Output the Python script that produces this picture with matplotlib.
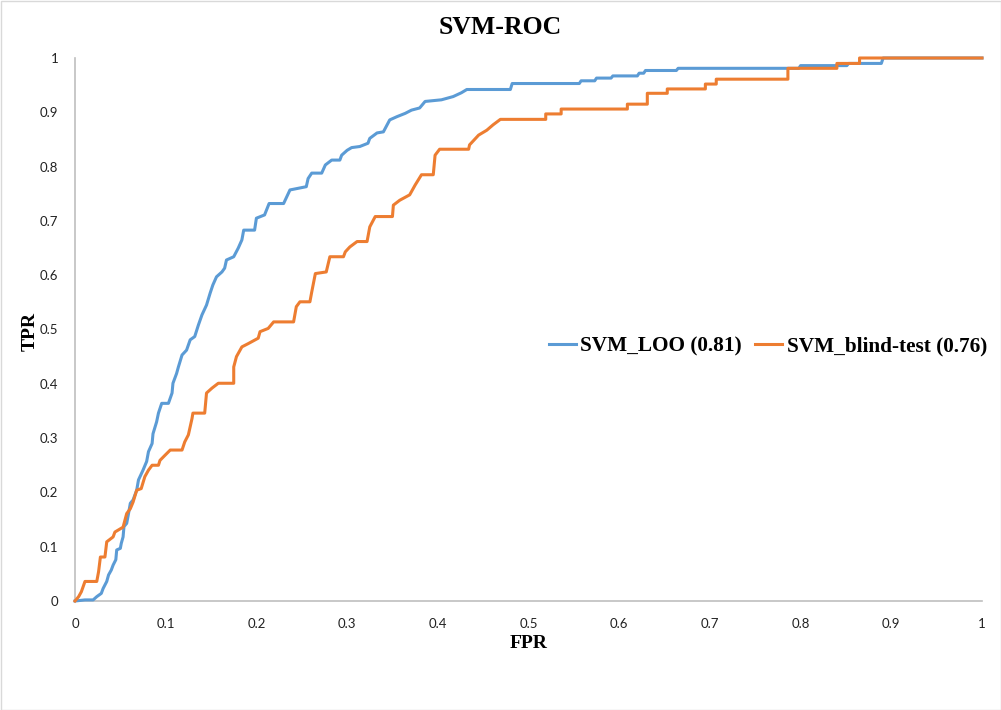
import matplotlib.pyplot as plt
import matplotlib.patches as patches

# ROC points (FPR, TPR), staircase vertices
loo_fpr = [0, 0.011, 0.020, 0.024, 0.029, 0.031, 0.035, 0.037, 0.040, 0.042, 0.045, 0.046,
           0.050, 0.051, 0.053, 0.054, 0.057, 0.059, 0.061, 0.064, 0.068, 0.070, 0.075,
           0.079, 0.081, 0.085, 0.086, 0.090, 0.092, 0.0956, 0.103, 0.107, 0.108, 0.112,
           0.114, 0.118, 0.123, 0.127, 0.132, 0.136, 0.140, 0.145, 0.149, 0.152, 0.156,
           0.162, 0.165, 0.167, 0.175, 0.180, 0.184, 0.186, 0.198, 0.200, 0.209, 0.214,
           0.230, 0.237, 0.255, 0.257, 0.261, 0.272, 0.276, 0.283, 0.292, 0.294, 0.300,
           0.305, 0.314, 0.323, 0.325, 0.333, 0.340, 0.347, 0.355, 0.364, 0.371, 0.380,
           0.386, 0.404, 0.417, 0.426, 0.432, 0.480, 0.482, 0.556, 0.558, 0.573, 0.575,
           0.591, 0.593, 0.620, 0.622, 0.627, 0.629, 0.663, 0.665, 0.798, 0.800, 0.851,
           0.853, 0.889, 0.891, 1.0]
loo_tpr = [0, 0.002, 0.002, 0.008, 0.014, 0.023, 0.036, 0.048, 0.057, 0.066, 0.076, 0.094,
           0.097, 0.106, 0.118, 0.137, 0.143, 0.161, 0.180, 0.186, 0.204, 0.223, 0.241,
           0.257, 0.275, 0.290, 0.308, 0.330, 0.346, 0.364, 0.364, 0.383, 0.401, 0.419,
           0.431, 0.453, 0.462, 0.481, 0.487, 0.508, 0.527, 0.545, 0.567, 0.582, 0.597,
           0.606, 0.613, 0.628, 0.634, 0.650, 0.665, 0.683, 0.683, 0.705, 0.711, 0.732,
           0.732, 0.757, 0.763, 0.778, 0.788, 0.788, 0.803, 0.812, 0.812, 0.821, 0.830,
           0.835, 0.837, 0.843, 0.852, 0.862, 0.864, 0.886, 0.892, 0.898, 0.904, 0.908,
           0.920, 0.923, 0.929, 0.936, 0.942, 0.942, 0.953, 0.953, 0.958, 0.958, 0.963,
           0.963, 0.967, 0.967, 0.972, 0.972, 0.977, 0.977, 0.981, 0.981, 0.986, 0.986,
           0.990, 0.990, 1.0, 1.0]

blind_fpr = [0, 0.004, 0.007, 0.011, 0.024, 0.026, 0.028, 0.033, 0.035, 0.042, 0.044, 0.053,
             0.057, 0.061, 0.064, 0.068, 0.073, 0.077, 0.081, 0.085, 0.092, 0.0937, 0.099,
             0.105, 0.118, 0.121, 0.125, 0.129, 0.130, 0.143, 0.145, 0.151, 0.158, 0.175,
             0.175, 0.178, 0.184, 0.191, 0.202, 0.204, 0.213, 0.219, 0.241, 0.244, 0.248,
             0.259, 0.261, 0.265, 0.277, 0.281, 0.296, 0.298, 0.303, 0.311, 0.322, 0.325,
             0.331, 0.350, 0.351, 0.358, 0.369, 0.375, 0.382, 0.395, 0.397, 0.402, 0.434,
             0.435, 0.445, 0.454, 0.461, 0.469, 0.519, 0.519, 0.536, 0.536, 0.609, 0.609,
             0.631, 0.631, 0.653, 0.653, 0.695, 0.695, 0.707, 0.707, 0.786, 0.786, 0.840,
             0.840, 0.865, 0.865, 1.0]
blind_tpr = [0, 0.008, 0.017, 0.036, 0.036, 0.054, 0.081, 0.081, 0.109, 0.118, 0.127, 0.136,
             0.161, 0.170, 0.182, 0.204, 0.207, 0.229, 0.241, 0.250, 0.250, 0.259, 0.268,
             0.278, 0.278, 0.293, 0.306, 0.336, 0.346, 0.346, 0.383, 0.392, 0.401, 0.401,
             0.431, 0.450, 0.468, 0.474, 0.484, 0.496, 0.502, 0.514, 0.514, 0.542, 0.551,
             0.551, 0.569, 0.603, 0.606, 0.634, 0.634, 0.643, 0.652, 0.662, 0.662, 0.689,
             0.708, 0.708, 0.729, 0.738, 0.748, 0.766, 0.785, 0.785, 0.821, 0.832, 0.832,
             0.840, 0.858, 0.867, 0.877, 0.887, 0.887, 0.897, 0.897, 0.906, 0.906, 0.915,
             0.915, 0.935, 0.935, 0.943, 0.943, 0.952, 0.952, 0.961, 0.961, 0.981, 0.981,
             0.990, 0.990, 1.0, 1.0]

ticks = [0, 0.1, 0.2, 0.3, 0.4, 0.5, 0.6, 0.7, 0.8, 0.9, 1]
tick_labels = ['0', '0.1', '0.2', '0.3', '0.4', '0.5', '0.6', '0.7', '0.8', '0.9', '1']

serif = ['Liberation Serif', 'DejaVu Serif']
fig = plt.figure(figsize=(10.01, 7.10), dpi=100)
ax = fig.add_axes([75/1001, 1 - 601/710, 907/1001, 543/710])

ax.plot(loo_fpr, loo_tpr, color='#5B9BD5', lw=2.2, label='SVM_LOO (0.81)', clip_on=False, zorder=3)
ax.plot(blind_fpr, blind_tpr, color='#ED7D31', lw=2.2, label='SVM_blind-test (0.76)', clip_on=False, zorder=3)

ax.set_xlim(0, 1)
ax.set_ylim(0, 1)
ax.set_xticks(ticks, tick_labels)
ax.set_yticks(ticks, tick_labels)
ax.tick_params(length=0, labelsize=9.5, colors='#222222')
ax.tick_params(axis='x', pad=12)
ax.tick_params(axis='y', pad=12)
for lab in ax.get_xticklabels() + ax.get_yticklabels():
    lab.set_fontfamily(['Lato', 'DejaVu Sans'])
for s in ['top', 'right']:
    ax.spines[s].set_visible(False)
for s in ['left', 'bottom']:
    ax.spines[s].set_color('#BFBFBF')
    ax.spines[s].set_linewidth(1.2)

fig.text(500/1001, 1 - 28/710, 'SVM-ROC', ha='center', va='center',
         fontsize=18.5, fontweight='bold', family=serif)
fig.text(30/1001, 1 - 331/710, 'TPR', ha='center', va='center', rotation=90,
         fontsize=14, fontweight='bold', family=serif)
fig.text(529/1001, 1 - 643/710, 'FPR', ha='center', va='center',
         fontsize=14, fontweight='bold', family=serif)

ax.legend(loc='center left', bbox_to_anchor=((540 - 75)/907, (601 - 346)/543), ncol=2,
          frameon=False, prop={'family': serif, 'weight': 'bold', 'size': 15.3},
          handlelength=1.3, handletextpad=0.2, columnspacing=0.6, borderaxespad=0)

fig.patches.append(patches.Rectangle((0.5/1001, 0.5/710), 1 - 1/1001, 1 - 1/710,
                                     transform=fig.transFigure, fill=False,
                                     edgecolor='#D9D9D9', lw=1))

fig.savefig('out.png', dpi=100)
